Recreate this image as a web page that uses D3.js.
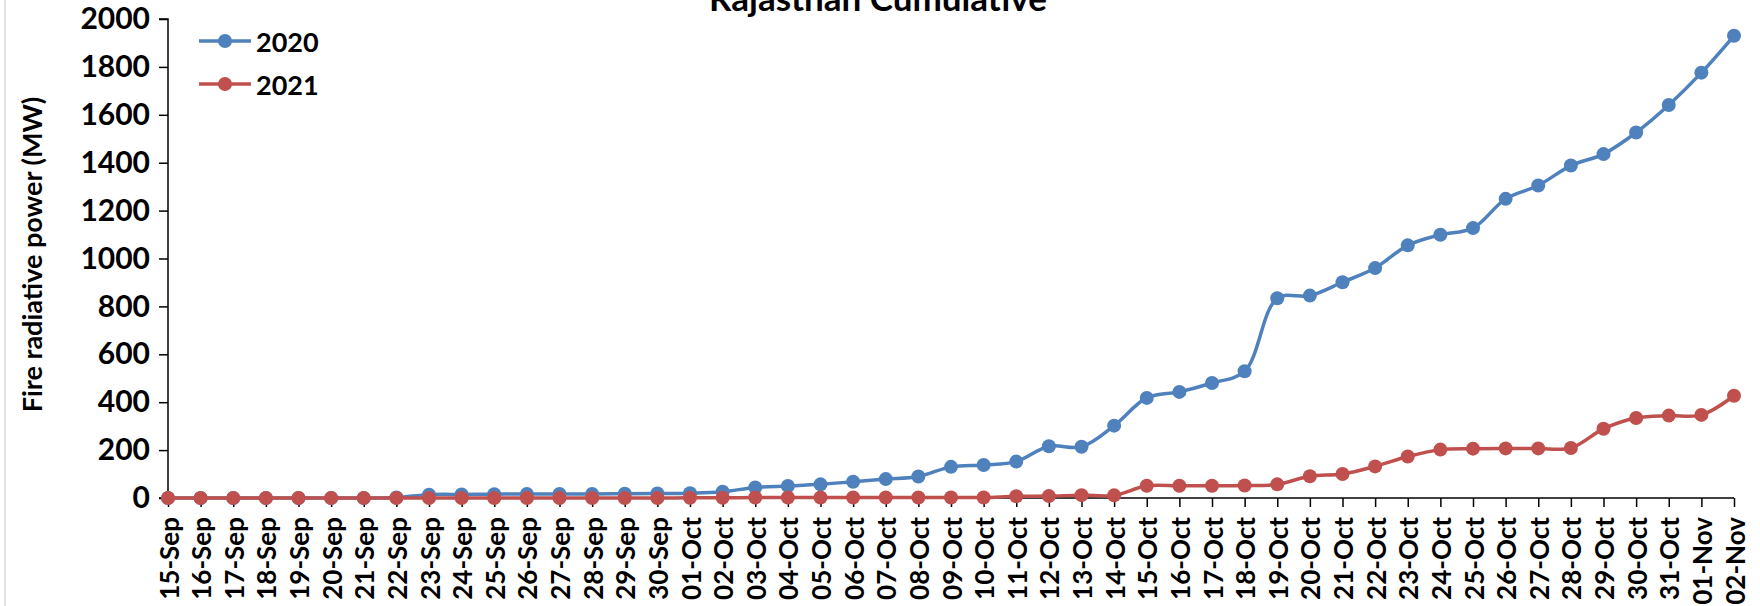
<!DOCTYPE html>
<html>
<head>
<meta charset="utf-8">
<script src="https://cdn.jsdelivr.net/npm/d3@7"></script>
<style>
  html, body { margin: 0; padding: 0; background: #fff; }
  svg { display: block; }
  text { font-family: Lato, "Open Sans", sans-serif; font-weight: bold; fill: #000; }
</style>
</head>
<body>
<svg id="chart" width="1760" height="606"></svg>
<script>
const categories = ["15-Sep","16-Sep","17-Sep","18-Sep","19-Sep","20-Sep","21-Sep","22-Sep","23-Sep","24-Sep","25-Sep","26-Sep","27-Sep","28-Sep","29-Sep","30-Sep","01-Oct","02-Oct","03-Oct","04-Oct","05-Oct","06-Oct","07-Oct","08-Oct","09-Oct","10-Oct","11-Oct","12-Oct","13-Oct","14-Oct","15-Oct","16-Oct","17-Oct","18-Oct","19-Oct","20-Oct","21-Oct","22-Oct","23-Oct","24-Oct","25-Oct","26-Oct","27-Oct","28-Oct","29-Oct","30-Oct","31-Oct","01-Nov","02-Nov"];

const values2020 = [0,0,0,0,0,0,0,2,14,15,16,17,17,17,18,19,20,26,44,50,57,68,79,90,130,138,152,216,214,302,418,443,480,529,834,845,901,960,1055,1099,1127,1249,1305,1388,1436,1526,1641,1776,1930];
const values2021 = [0,0,0,0,0,0,0,0,0,0,0,0,0,0,0,0,1,1,2,2,2,2,2,2,2,2,7,8,12,11,51,51,51,52,57,91,100,132,173,202,206,207,207,209,289,334,344,347,427];

const yTicks = [0,200,400,600,800,1000,1200,1400,1600,1800,2000];
const seriesNames = ["2020","2021"];
const seriesColors = ["#4F81BD","#C0504D"];
const titleText = "Rajasthan Cumulative";
const yAxisTitle = "Fire radiative power (MW)";

const svg = d3.select("#chart");
const pL = 168, pR = 1734, pT = 19, pB = 498;

const x = d3.scalePoint().domain(categories).range([pL, pR]).padding(0);
const y = d3.scaleLinear().domain([0, 2000]).range([pB, pT]);

// faint chart border at left
svg.append("line").attr("x1",5).attr("x2",5).attr("y1",0).attr("y2",606)
  .attr("stroke","#d9d9d9").attr("stroke-width",1.5);

// title (cut off at top)
svg.append("text").attr("x", 878).attr("y", 11).attr("text-anchor","middle")
  .style("font-size","35px").text(titleText);

// y axis
const yAxis = d3.axisLeft(y).tickValues(yTicks).tickSize(9).tickPadding(9).tickFormat(d3.format("d"));
const gy = svg.append("g").attr("transform", `translate(${pL},0)`).call(yAxis);
gy.select(".domain").attr("stroke","#000").attr("stroke-width",1.5).attr("d", `M-9,${pT}H0V${pB}H-9`);
gy.selectAll(".tick line").attr("stroke","#000").attr("stroke-width",1.5);
gy.selectAll(".tick text").style("font-size","30px").style("font-family","Lato, sans-serif").style("font-weight","bold").attr("fill","#000");

// x axis
const xAxis = d3.axisBottom(x).tickSize(9).tickPadding(6);
const gx = svg.append("g").attr("transform", `translate(0,${pB})`).call(xAxis);
gx.select(".domain").attr("stroke","#000").attr("stroke-width",1.5).attr("d", `M${pL},0H${pR}`);
gx.selectAll(".tick line").attr("stroke","#000").attr("stroke-width",1.5);
gx.selectAll(".tick text")
  .style("font-size","26px").style("font-family","Lato, sans-serif").style("font-weight","bold").attr("fill","#000")
  .attr("text-anchor","end")
  .attr("dy", null)
  .attr("dominant-baseline","central")
  .attr("transform","translate(0,19) rotate(-90)")
  .attr("x",0).attr("y",0);

// y title
svg.append("text").attr("transform", `translate(42,${(pT+pB)/2 - 4}) rotate(-90)`)
  .attr("text-anchor","middle").style("font-size","27px").text(yAxisTitle);

// series
const allSeries = [values2020, values2021];
const line = d3.line().x((d,i)=>x(categories[i])).y(d=>y(d)).curve(d3.curveCatmullRom.alpha(0.5));

allSeries.forEach((vals, si) => {
  svg.append("path").datum(vals).attr("d", line).attr("fill","none")
    .attr("stroke", seriesColors[si]).attr("stroke-width",3.5);
  svg.append("g").selectAll("circle").data(vals).join("circle")
    .attr("cx",(d,i)=>x(categories[i])).attr("cy",d=>y(d)).attr("r",7)
    .attr("fill", seriesColors[si]);
});

// legend
const legendY = [41, 84];
seriesNames.forEach((name, i) => {
  svg.append("line").attr("x1",199).attr("x2",251).attr("y1",legendY[i]).attr("y2",legendY[i])
    .attr("stroke",seriesColors[i]).attr("stroke-width",3.5);
  svg.append("circle").attr("cx",225).attr("cy",legendY[i]).attr("r",7).attr("fill",seriesColors[i]);
  svg.append("text").attr("x",256).attr("y",legendY[i]).attr("dominant-baseline","central")
    .style("font-size","27px").text(name);
});
</script>
</body>
</html>
